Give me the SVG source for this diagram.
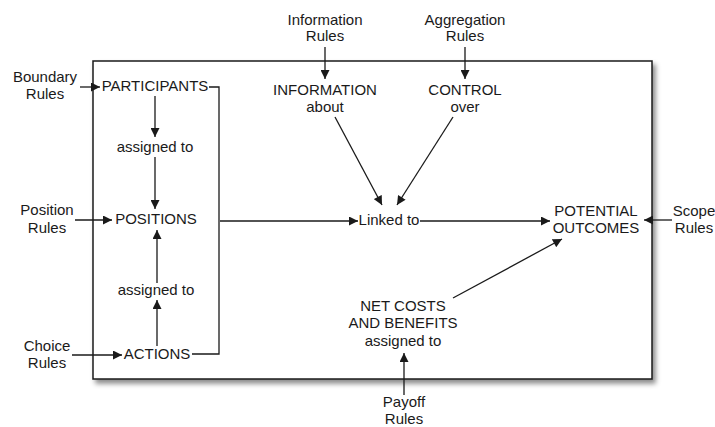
<svg xmlns="http://www.w3.org/2000/svg" width="715" height="427" viewBox="0 0 715 427">
<style>
text{font-family:"Liberation Sans",Arial,sans-serif;font-size:15px;fill:#1a1a1a;text-anchor:middle}
.c{fill:none;stroke:#1a1a1a;stroke-width:1.3}
.a{marker-end:url(#ah)}
</style>
<defs>
<marker id="ah" viewBox="0 0 10 10" refX="10" refY="5" markerWidth="10" markerHeight="9" markerUnits="userSpaceOnUse" orient="auto">
<path d="M0,0 L10,5 L0,10 z" fill="#1a1a1a"/>
</marker>
<filter id="sh" x="-5%" y="-5%" width="112%" height="115%">
<feDropShadow dx="3" dy="4" stdDeviation="2.5" flood-color="#000" flood-opacity="0.45"/>
</filter>
</defs>
<rect x="93" y="61" width="559" height="318" fill="#fff" stroke="#1a1a1a" stroke-width="1.5" filter="url(#sh)"/>
<g id="connectors">
<path class="c a" d="M80,87 L100,87"/>
<path class="c a" d="M75,220 L112,220"/>
<path class="c a" d="M72,355 L122,355"/>
<path class="c a" d="M155,96 L155,137"/>
<path class="c a" d="M155,157 L155,209"/>
<path class="c a" d="M157,346 L157,300"/>
<path class="c a" d="M157,283 L157,230"/>
<path class="c" d="M209,87 L219,87 L219,354 L192,354"/>
<path class="c a" d="M220,221 L358,221"/>
<path class="c a" d="M420,221 L550,221"/>
<path class="c a" d="M325,47 L325,79"/>
<path class="c a" d="M465,47 L465,79"/>
<path class="c a" d="M335,117 L382,205"/>
<path class="c a" d="M453,117 L397,205"/>
<path class="c a" d="M672,220 L644,220"/>
<path class="c a" d="M453,298 L562,239"/>
<path class="c a" d="M404,395 L404,353"/>
</g>
<g id="boundary-rules"><text x="45" y="82">Boundary</text><text x="45" y="99">Rules</text></g>
<g id="position-rules"><text x="47" y="215">Position</text><text x="47" y="233">Rules</text></g>
<g id="choice-rules"><text x="47" y="351">Choice</text><text x="47" y="368">Rules</text></g>
<g id="participants"><text x="155" y="91">PARTICIPANTS</text></g>
<g id="assigned-1"><text x="155" y="152">assigned to</text></g>
<g id="positions"><text x="156" y="224">POSITIONS</text></g>
<g id="assigned-2"><text x="156" y="295">assigned to</text></g>
<g id="actions"><text x="157" y="359">ACTIONS</text></g>
<g id="information-rules"><text x="325" y="25">Information</text><text x="325" y="41">Rules</text></g>
<g id="aggregation-rules"><text x="465" y="25">Aggregation</text><text x="465" y="41">Rules</text></g>
<g id="information"><text x="325" y="95">INFORMATION</text><text x="325" y="112">about</text></g>
<g id="control"><text x="465" y="95">CONTROL</text><text x="465" y="112">over</text></g>
<g id="linked"><text x="389" y="225">Linked to</text></g>
<g id="outcomes"><text x="596" y="216">POTENTIAL</text><text x="596" y="233">OUTCOMES</text></g>
<g id="scope-rules"><text x="694" y="216">Scope</text><text x="694" y="233">Rules</text></g>
<g id="net-costs"><text x="403" y="311">NET COSTS</text><text x="403" y="328">AND BENEFITS</text><text x="403" y="346">assigned to</text></g>
<g id="payoff-rules"><text x="404" y="407">Payoff</text><text x="404" y="424">Rules</text></g>
</svg>
